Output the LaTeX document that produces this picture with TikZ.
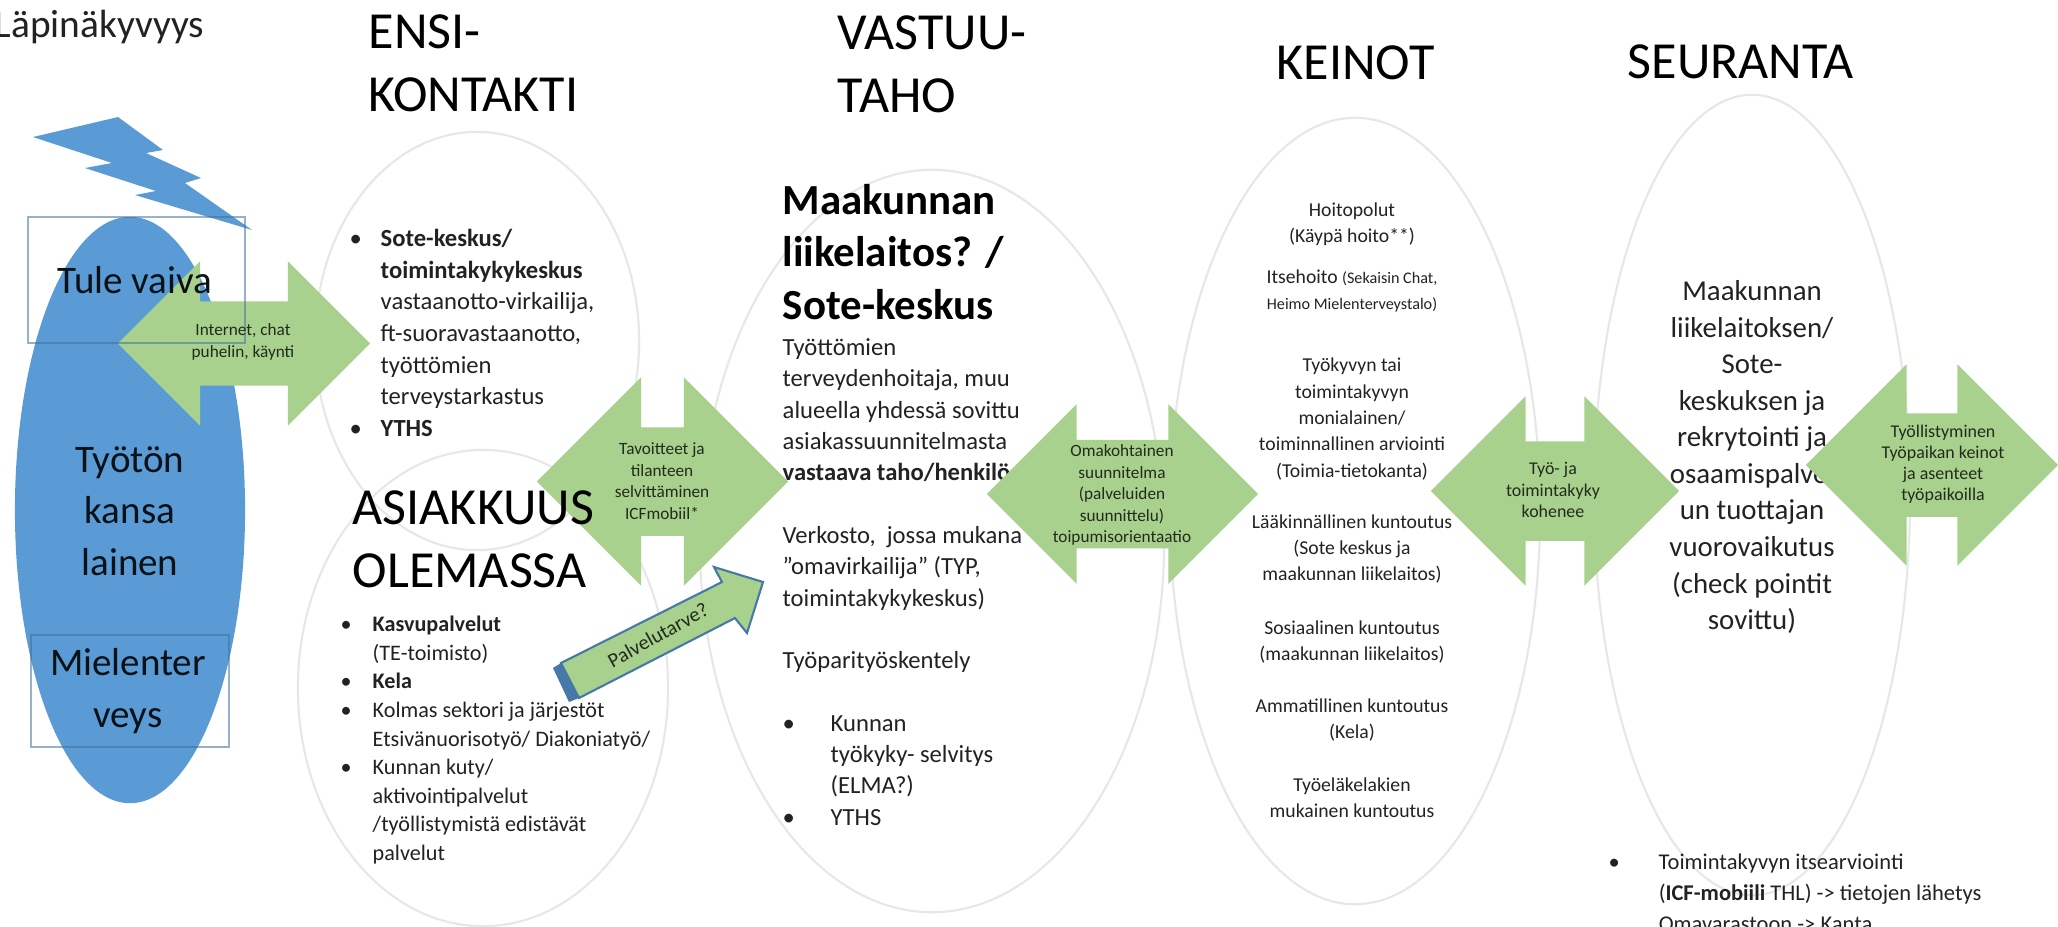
\documentclass[tikz,border=0pt]{standalone}
\usepackage{fontspec}
\setmainfont{Carlito}
\usetikzlibrary{shapes.arrows}
\usetikzlibrary{shapes.geometric}
\definecolor{kansasin}{HTML}{5B9BD5}
\definecolor{nuolivihrea}{HTML}{A9D18E}
\definecolor{kehyssin}{HTML}{41719C}
\definecolor{soikioharmaa}{HTML}{E7E7E7}
\definecolor{tekstiharmaa}{HTML}{222222}
\newcommand{\kohta}[1]{\makebox[\kohtaleveys][l]{\textbullet}#1}
\newcommand{\jatko}{\hspace*{\kohtaleveys}}
\newlength{\kohtaleveys}
\tikzset{
  soikio/.style={ellipse, draw=soikioharmaa, line width=0.6pt, inner sep=0pt},
  kehys/.style={draw=kehyssin, draw opacity=0.55, line width=0.6pt, inner sep=0pt},
  nuoli/.style={double arrow, fill=nuolivihrea, inner xsep=0pt, outer sep=0pt},
  otsikko/.style={font=\fontsize{14.8}{18}\selectfont, align=left, inner sep=0pt, text=black},
  kansateksti/.style={font=\fontsize{11.1}{14.7}\selectfont, align=center, inner sep=0pt, text=black!85!kehyssin},
  leipa/.style={font=\fontsize{7}{9}\selectfont, align=left, inner sep=0pt, text=tekstiharmaa},
  keino/.style={font=\fontsize{5.6}{7.5}\selectfont, align=center, inner sep=0pt, text=tekstiharmaa},
  nuoliteksti/.style={font=\fontsize{4.9}{6.1}\selectfont, align=center, inner sep=0pt, text=black!80!nuolivihrea},
}
\begin{document}
\begin{tikzpicture}[x=0.01cm,y=-0.01cm]
  \fill[white] (0,0) rectangle (2058,926);
  \useasboundingbox (0,0) rectangle (2058,926);

  % vasen reuna
  \node[ellipse, fill=kansasin, minimum width=2.30cm, minimum height=5.86cm, inner sep=0pt] (kansa) at (130,510) {};
  \fill[kansasin] (33,137) -- (118,117) -- (163,150) -- (146,153) -- (201,178) -- (185,183) -- (252,230)
    -- (135,195) -- (156,191) -- (85,168) -- (112,163) -- cycle;

  % soikiot
  \node[soikio, minimum width=3.24cm, minimum height=4.18cm] (ensi) at (477,341) {};
  \node[soikio, minimum width=3.70cm, minimum height=4.76cm] (asiakkuus) at (483,688) {};
  \node[soikio, minimum width=4.64cm, minimum height=7.42cm] (vastuu) at (932,541) {};
  \node[soikio, minimum width=3.70cm, minimum height=7.86cm] (keinot) at (1355,511) {};
  \node[soikio, minimum width=3.16cm, minimum height=8.00cm] (seuranta) at (1752,495) {};

  % tekstit nuolten alla
  \setlength{\kohtaleveys}{0.31cm}
  \node[leipa, anchor=west] (ensiteksti) at (349,333) {\kohta{\textbf{Sote-keskus/}}\\
    \jatko\textbf{toimintakykykeskus}\\
    \jatko vastaanotto-virkailija,\\
    \jatko ft-suoravastaanotto,\\
    \jatko työttömien\\
    \jatko terveystarkastus\\
    \kohta{\textbf{YTHS}}};
  \setlength{\kohtaleveys}{0.32cm}
  \node[leipa, anchor=west, font=\fontsize{6.3}{8.15}\selectfont] (asiakasteksti) at (340,740) {\kohta{\textbf{Kasvupalvelut}}\\
    \jatko(TE-toimisto)\\
    \kohta{\textbf{Kela}}\\
    \kohta{Kolmas sektori ja järjestöt}\\
    \jatko Etsivänuorisotyö/ Diakoniatyö/\\
    \kohta{Kunnan kuty/}\\
    \jatko aktivointipalvelut\\
    \jatko /työllistymistä edistävät\\
    \jatko palvelut};
  \node[anchor=west, font=\bfseries\fontsize{12.2}{15}\selectfont, align=left, inner sep=0pt, text=black] (vastuuotsikko) at (782,252)
    {Maakunnan\\liikelaitos? /\\Sote-keskus};
  \setlength{\kohtaleveys}{0.48cm}
  \node[leipa, anchor=north west, font=\fontsize{7}{8.9}\selectfont] (vastuuteksti) at (782,338) {Työttömien\\
    terveydenhoitaja, muu\\
    alueella yhdessä sovittu\\
    asiakassuunnitelmasta\\
    \textbf{vastaava taho/henkilö}\\[8.9pt]
    Verkosto,\ \ jossa mukana\\
    ”omavirkailija” (TYP,\\
    toimintakykykeskus)\\[8.9pt]
    Työparityöskentely\\[8.9pt]
    \kohta{Kunnan}\\
    \jatko työkyky- selvitys\\
    \jatko (ELMA?)\\
    \kohta{YTHS}};
  \node[keino] (hoitopolut) at (1352,224) {Hoitopolut\\(Käypä hoito**)};
  \node[keino] (itsehoito) at (1352,291) {Itsehoito {\fontsize{4.6}{7.5}\selectfont(Sekaisin Chat,}\\{\fontsize{4.6}{7.5}\selectfont Heimo Mielenterveystalo)}};
  \node[keino] (arviointi) at (1352,419) {Työkyvyn tai\\toimintakyvyn\\monialainen/\\toiminnallinen arviointi\\(Toimia-tietokanta)};
  \node[keino] (laakinnallinen) at (1352,549) {Lääkinnällinen kuntoutus\\(Sote keskus ja\\maakunnan liikelaitos)};
  \node[keino] (sosiaalinen) at (1352,642) {Sosiaalinen kuntoutus\\(maakunnan liikelaitos)};
  \node[keino] (ammatillinen) at (1352,720) {Ammatillinen kuntoutus\\(Kela)};
  \node[keino] (tyoelake) at (1352,798) {Työeläkelakien\\mukainen kuntoutus};
  \node[font=\fontsize{8.2}{10.4}\selectfont, align=center, inner sep=0pt, text=tekstiharmaa] (seurantateksti) at (1752,457)
    {Maakunnan\\liikelaitoksen/\\Sote-\\keskuksen ja\\rekrytointi ja\\osaamispalvel\\un tuottajan\\vuorovaikutus\\(check pointit\\sovittu)};
  \setlength{\kohtaleveys}{0.50cm}
  \node[leipa, anchor=north west, font=\fontsize{6.4}{8.9}\selectfont] (itsearviointi) at (1608,853) {\kohta{Toimintakyvyn itsearviointi}\\
    \jatko(\textbf{ICF-mobiili} THL) -> tietojen lähetys\\
    \jatko Omavarastoon -> Kanta};

  % nuolet
  \node[nuoli, inner ysep=0.415cm, minimum height=2.52cm, minimum width=1.63cm, double arrow head extend=0.40cm] (kontaktinuoli) at (244,343.5) {};
  \node[nuoli, inner ysep=0.535cm, minimum height=2.51cm, minimum width=2.07cm, double arrow head extend=0.50cm] (tavoitenuoli) at (662.5,481.5) {};
  \node[nuoli, inner ysep=0.535cm, minimum height=2.71cm, minimum width=1.78cm, double arrow head extend=0.355cm] (suunnitelmanuoli) at (1122.5,494) {};
  \node[nuoli, inner ysep=0.49cm, minimum height=2.48cm, minimum width=1.88cm, double arrow head extend=0.45cm] (kohenemisnuoli) at (1555,491) {};
  \node[nuoli, inner ysep=0.51cm, minimum height=2.52cm, minimum width=2.00cm, double arrow head extend=0.49cm] (tyollisyysnuoli) at (1932,465) {};

  % palvelutarve
  \fill[kehyssin!80!kansasin] (553,668) -- (561,663) -- (579,698) -- (569,702) -- cycle;
  \draw[fill=nuolivihrea, draw=kehyssin!80!kansasin, line width=0.6pt] (561,663) -- (722,582) -- (714,567) -- (763,582)
    -- (747,633) -- (735,618) -- (579,698) -- cycle;
  \node[font=\fontsize{5.8}{7}\selectfont, rotate=29, inner sep=0pt, text=black!80!nuolivihrea] (palvelutarve) at (658,635) {Palvelutarve?};

  % kehykset
  \node[kehys, rectangle, minimum width=2.17cm, minimum height=1.26cm] (tule) at (136.5,280) {};
  \node[kehys, rectangle, minimum width=1.98cm, minimum height=1.12cm] (mieli) at (130,691) {};

  % otsikot
  \node[anchor=west, inner sep=0pt, font=\fontsize{11.2}{13}\selectfont, text=tekstiharmaa] (lapinakyvyys) at (-6,27) {Läpinäkyvyys};
  \node[otsikko, anchor=west] (ensiotsikko) at (368,63) {ENSI-\\KONTAKTI};
  \node[otsikko, anchor=west] (vastuutaho) at (837,64) {VASTUU-\\TAHO};
  \node[otsikko, anchor=west] (keinototsikko) at (1276,63) {KEINOT};
  \node[otsikko, anchor=west] (seurantaotsikko) at (1627,62) {SEURANTA};
  \node[otsikko, anchor=west] (asiakkuusotsikko) at (352,539) {ASIAKKUUS\\OLEMASSA};

  % tekstit kansalaisen paalla
  \node[kansateksti] (tuleteksti) at (135,280) {Tule vaiva};
  \node[kansateksti] (kansateksti) at (130,511) {Työtön\\kansa\\lainen};
  \node[kansateksti] (mieliteksti) at (128,691) {Mielenter\\veys};

  % nuolten tekstit
  \node[nuoliteksti] (kontaktiteksti) at (243,342) {Internet, chat\\puhelin, käynti};
  \node[nuoliteksti] (tavoiteteksti) at (662,481) {Tavoitteet ja\\tilanteen\\selvittäminen\\ICFmobiil*};
  \node[nuoliteksti] (suunnitelmateksti) at (1122,495) {Omakohtainen\\suunnitelma\\(palveluiden\\suunnittelu)\\toipumisorientaatio};
  \node[nuoliteksti, font=\fontsize{5.1}{6.1}\selectfont] (kohenemisteksti) at (1553,490) {Työ- ja\\toimintakyky\\kohenee};
  \node[nuoliteksti, font=\fontsize{5.1}{6}\selectfont] (tyollisyysteksti) at (1943,464) {Työllistyminen\\Työpaikan keinot\\ja asenteet\\työpaikoilla};
\end{tikzpicture}
\end{document}
